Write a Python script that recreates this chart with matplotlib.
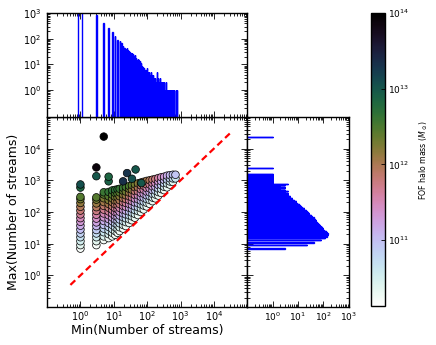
import numpy as np
import matplotlib
matplotlib.use("Agg")
import matplotlib.pyplot as plt
from matplotlib.colors import LogNorm

# ---------------- data ----------------
# scatter: columns of (min streams) with their max-stream values and log10 halo mass
col_x = [1, 3, 5, 7, 9, 11, 13, 15, 19, 23, 29, 35, 43, 53, 65, 79, 97, 119,
         145, 177, 217, 265, 323, 395, 483, 591, 707]
col_y = [
    [7, 9, 12, 16, 21, 28, 37, 49, 64, 84, 111, 146, 193, 254, 300],
    [9, 12, 16, 21, 27, 36, 47, 62, 82, 108, 142, 187, 246, 290],
    [13, 17, 23, 30, 39, 52, 68, 90, 119, 156, 206, 272, 358, 420],
    [15, 20, 26, 34, 45, 60, 79, 104, 137, 180, 238, 313, 430],
    [17, 22, 29, 39, 51, 67, 89, 117, 154, 203, 268, 353, 480],
    [19, 25, 33, 44, 58, 76, 100, 132, 174, 229, 302, 398, 500],
    [22, 29, 39, 52, 69, 92, 122, 162, 215, 285, 380, 520],
    [25, 33, 44, 58, 77, 102, 135, 179, 237, 314, 416, 540],
    [30, 39, 52, 68, 90, 118, 156, 205, 271, 357, 470, 580],
    [36, 48, 63, 84, 111, 146, 193, 255, 336, 443, 620],
    [45, 59, 78, 103, 136, 179, 236, 311, 410, 540, 660],
    [55, 73, 96, 127, 167, 220, 290, 383, 505, 700],
    [66, 87, 115, 151, 199, 263, 346, 456, 601, 750],
    [80, 107, 142, 190, 253, 337, 449, 599, 800],
    [100, 131, 174, 229, 302, 398, 524, 690, 850],
    [120, 160, 213, 284, 378, 504, 672, 900],
    [150, 196, 256, 334, 437, 571, 746, 960],
    [180, 239, 317, 420, 557, 739, 1000],
    [220, 286, 373, 485, 632, 823, 1050],
    [270, 357, 472, 624, 825, 1100],
    [330, 425, 548, 707, 912, 1180],
    [400, 530, 703, 932, 1250],
    [490, 626, 800, 1020, 1300],
    [600, 795, 1055, 1400],
    [730, 920, 1150, 1450],
    [890, 1150, 1500],
    [1150, 1500],
]
col_logm = [
    [10.20, 10.36, 10.52, 10.68, 10.84, 11.00, 11.16, 11.33, 11.49, 11.65, 11.81, 11.97, 12.13, 12.29, 12.45],
    [10.20, 10.37, 10.55, 10.72, 10.89, 11.07, 11.24, 11.41, 11.58, 11.76, 11.93, 12.10, 12.28, 12.45],
    [10.25, 10.43, 10.61, 10.79, 10.97, 11.15, 11.34, 11.52, 11.70, 11.88, 12.06, 12.24, 12.42, 12.60],
    [10.25, 10.45, 10.65, 10.85, 11.05, 11.25, 11.45, 11.65, 11.85, 12.05, 12.25, 12.45, 12.65],
    [10.25, 10.45, 10.66, 10.86, 11.07, 11.27, 11.47, 11.68, 11.88, 12.09, 12.29, 12.50, 12.70],
    [10.25, 10.45, 10.66, 10.86, 11.07, 11.27, 11.47, 11.68, 11.88, 12.09, 12.29, 12.50, 12.70],
    [10.25, 10.47, 10.70, 10.92, 11.14, 11.37, 11.59, 11.81, 12.03, 12.26, 12.48, 12.70],
    [10.25, 10.47, 10.69, 10.90, 11.12, 11.34, 11.56, 11.78, 12.00, 12.21, 12.43, 12.65],
    [10.25, 10.46, 10.68, 10.89, 11.11, 11.32, 11.53, 11.75, 11.96, 12.18, 12.39, 12.60],
    [10.30, 10.53, 10.75, 10.98, 11.20, 11.43, 11.65, 11.88, 12.10, 12.33, 12.55],
    [10.30, 10.52, 10.74, 10.96, 11.18, 11.40, 11.62, 11.84, 12.06, 12.28, 12.50],
    [10.30, 10.53, 10.77, 11.00, 11.23, 11.47, 11.70, 11.93, 12.17, 12.40],
    [10.30, 10.52, 10.74, 10.97, 11.19, 11.41, 11.63, 11.86, 12.08, 12.30],
    [10.30, 10.54, 10.78, 11.01, 11.25, 11.49, 11.73, 11.96, 12.20],
    [10.30, 10.53, 10.75, 10.98, 11.20, 11.43, 11.65, 11.88, 12.10],
    [10.30, 10.55, 10.80, 11.05, 11.30, 11.55, 11.80, 12.05],
    [10.30, 10.55, 10.80, 11.05, 11.30, 11.55, 11.80, 12.05],
    [10.30, 10.58, 10.85, 11.13, 11.40, 11.68, 11.95],
    [10.30, 10.56, 10.82, 11.08, 11.33, 11.59, 11.85],
    [10.30, 10.59, 10.88, 11.17, 11.46, 11.75],
    [10.30, 10.56, 10.82, 11.08, 11.34, 11.60],
    [10.30, 10.59, 10.88, 11.16, 11.45],
    [10.30, 10.55, 10.80, 11.05, 11.30],
    [10.30, 10.58, 10.87, 11.15],
    [10.35, 10.58, 10.82, 11.05],
    [10.40, 10.70, 10.95],
    [10.60, 10.95],
]
# isolated massive haloes
out_x = [1, 1, 3, 3, 5, 7, 7, 19, 25, 35, 45, 67]
out_y = [590, 740, 1350, 2550, 24000, 930, 1300, 930, 1690, 1120, 2200, 820]
out_logm = [12.85, 13.05, 13.0, 13.9, 14.0, 12.9, 12.85, 13.35, 13.3, 13.05, 13.0, 13.0]

# top histogram: Min(number of streams) value -> count
top_vals = [1, 3, 5, 7, 9, 11, 13, 15, 17, 19, 21, 23, 25, 27, 29, 31, 33, 35, 37, 39,
            41, 43, 45, 47, 49, 51, 53, 55, 57, 59, 61, 63, 65, 67, 69, 71, 73, 75, 77, 79,
            83, 87, 91, 95, 99, 105, 111, 117, 123, 129, 135, 143, 151, 159, 167, 177, 187,
            197, 209, 221, 233, 247, 261, 275, 291, 307, 325, 343, 363, 379, 395, 411, 427,
            443, 483, 499, 515, 531, 547, 603, 623, 643, 757, 775, 791]
top_counts = [1500, 860, 400, 262, 183, 127, 89, 79, 66, 52, 45, 40, 43, 36, 34, 30, 27, 29, 25, 22,
              20, 23, 18, 16, 15, 14, 16, 15, 12, 11, 10, 14, 11, 9, 8, 9, 7, 8, 6, 7,
              7, 6, 5, 6, 7, 5, 4, 5, 4, 5, 4, 3, 4, 3, 2, 3, 2,
              5, 3, 2, 2, 3, 2, 2, 2, 1, 2, 1, 2, 1, 1, 1, 1,
              1, 1, 1, 1, 1, 1, 1, 1, 1, 1, 1, 1]

# right histogram: Max(number of streams) value -> count
right_vals = [7, 9, 11, 13, 15, 17, 19, 21, 23, 25, 27, 29, 31, 33, 35, 37, 39, 41, 43, 45,
              47, 49, 51, 55, 59, 63, 67, 71, 75, 81, 87, 93, 99, 107, 115, 123, 131, 141,
              151, 161, 173, 185, 197, 211, 225, 241, 257, 275, 293, 313, 333, 355, 379, 405,
              431, 459, 489, 521, 555, 591, 629, 669, 713, 759, 809, 861, 917, 977, 1041,
              1109, 1181, 1257, 1339, 1425, 1517, 1615, 2401, 2487, 23001]
right_counts = [3, 23, 42, 79, 115, 140, 155, 150, 135, 125, 110, 100, 95, 88, 82, 78, 72, 68, 64, 60,
                58, 55, 52, 50, 46, 44, 42, 38, 36, 33, 28, 27, 25, 22, 20, 18, 17, 15,
                13, 12, 11, 10, 9, 8, 8, 7, 6, 6, 5, 5, 4, 4, 4, 4,
                3, 4, 3, 2, 3, 2, 3, 2, 3, 4, 1, 1, 1, 1, 1,
                1, 1, 1, 1, 1, 1, 1, 1, 1, 1]

# colour scale limits (halo mass)
mass_min, mass_max = 1.35e10, 1e14

# ---------------- figure ----------------
fig = plt.figure(figsize=(4.36, 3.45), dpi=100)
ax_main = fig.add_axes([0.108, 0.110, 0.459, 0.551])
ax_top = fig.add_axes([0.108, 0.661, 0.459, 0.301])
ax_right = fig.add_axes([0.567, 0.110, 0.233, 0.551])
cax = fig.add_axes([0.851, 0.113, 0.032, 0.849])

xs = np.concatenate([np.full(len(ys), x, dtype=float) for x, ys in zip(col_x, col_y)] + [np.array(out_x, float)])
ys = np.concatenate([np.array(y, float) for y in col_y] + [np.array(out_y, float)])
ms = np.concatenate([np.array(m, float) for m in col_logm] + [np.array(out_logm, float)])

cmap = plt.get_cmap('cubehelix_r')
norm = LogNorm(vmin=mass_min, vmax=mass_max)
sc = ax_main.scatter(xs, ys, c=10 ** ms, cmap=cmap, norm=norm, s=30,
                     edgecolors='black', linewidths=0.5, zorder=2)
ax_main.plot([0.5, 3e4], [0.5, 3e4], color='red', ls='--', lw=1.6,
             dashes=(3.0, 1.8), zorder=3)

ax_main.set_xscale('log')
ax_main.set_yscale('log')
ax_main.set_xlim(0.1, 1e5)
ax_main.set_ylim(0.1, 1e5)
ax_main.set_xticks([1, 10, 100, 1e3, 1e4])
ax_main.set_yticks([1, 10, 100, 1e3, 1e4])
ax_main.set_xlabel('Min(Number of streams)', fontsize=9, labelpad=0.5)
ax_main.set_ylabel('Max(Number of streams)', fontsize=9, labelpad=2)


def edges_for(vals, half=0.15):
    e = []
    for v in vals:
        e += [v - half, v + half]
    return np.array(e)


ax_top.hist(top_vals, bins=edges_for(top_vals), weights=top_counts, histtype='step',
            color='blue', lw=1.0, bottom=0.01)
ax_top.set_xscale('log')
ax_top.set_yscale('log')
ax_top.set_xlim(0.1, 1e5)
ax_top.set_ylim(0.09, 1000)
ax_top.set_yticks([1, 10, 100, 1000])
ax_top.set_xticks([1, 10, 100, 1e3, 1e4])
ax_top.tick_params(labelbottom=False)

ax_right.hist(right_vals, bins=edges_for(right_vals), weights=right_counts, histtype='step',
              color='blue', lw=1.0, orientation='horizontal', bottom=0.01)
ax_right.set_xscale('log')
ax_right.set_yscale('log')
ax_right.set_xlim(0.1, 1000)
ax_right.set_ylim(0.1, 1e5)
ax_right.set_xticks([1, 10, 100, 1000])
ax_right.set_yticks([1, 10, 100, 1e3, 1e4])
ax_right.tick_params(labelleft=False)

for ax in (ax_main, ax_top, ax_right):
    ax.tick_params(which='both', direction='in', top=True, right=True, width=0.6)
    ax.tick_params(which='major', length=4)
    ax.tick_params(which='minor', length=2)
    for sp in ax.spines.values():
        sp.set_linewidth(1.0)
ax_main.tick_params(labelsize=7)
ax_main.tick_params(axis='x', pad=1.5)
ax_main.tick_params(axis='y', pad=4)
ax_top.tick_params(labelsize=7, pad=4)
ax_right.tick_params(labelsize=6.5, pad=2.5)

cb = fig.colorbar(sc, cax=cax)
cb.set_ticks([1e11, 1e12, 1e13, 1e14])
cax.minorticks_off()
cax.tick_params(labelsize=6.5, direction='in', length=3, width=0.6, pad=2)
cb.outline.set_linewidth(1.0)
cb.set_label(r'FOF halo mass ($M_\odot$)', fontsize=5.6, labelpad=6)

fig.savefig('out.png', dpi=100)
